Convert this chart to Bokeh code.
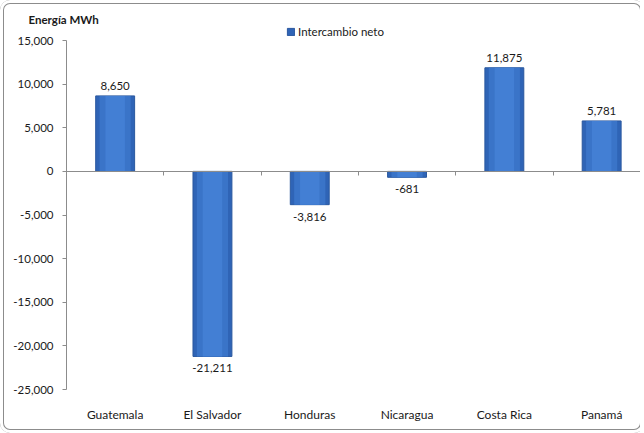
from bokeh.plotting import figure
from bokeh.models import (Range1d, LinearAxis, FixedTicker, NumeralTickFormatter,
                          ColumnDataSource, LabelSet, Legend, LegendItem)
from bokeh.core.properties import value
from bokeh.embed import file_html
from bokeh.resources import INLINE

# ---- data ----
countries = ["Guatemala", "El Salvador", "Honduras", "Nicaragua", "Costa Rica", "Panamá"]
intercambio_neto = [8650, -21211, -3816, -681, 11875, 5781]
y_ticks = [-25000, -20000, -15000, -10000, -5000, 0, 5000, 10000, 15000]
series_name = "Intercambio neto"
y_title = "Energía MWh"

FONT = "Lato"
FS = "11.5px"
TXT = "#1a1a1a"
W, H = 644, 433
LEFT, TOP_AXIS, BOTTOM = 66, 40, 389   # pixel layout of the plot area
FRAME_TOP = 26                          # top of the frame (below the title)

xs = [i + 0.5 for i in range(len(countries))]
src = ColumnDataSource(dict(x=xs, top=intercambio_neto))
pos = [(x, v) for x, v in zip(xs, intercambio_neto) if v >= 0]
neg = [(x, v) for x, v in zip(xs, intercambio_neto) if v < 0]
src_pos = ColumnDataSource(dict(x=[a for a, _ in pos], y=[b for _, b in pos],
                                lab=[f"{b:,}" for _, b in pos]))
src_neg = ColumnDataSource(dict(x=[a for a, _ in neg], y=[b for _, b in neg],
                                lab=[f"{b:,}" for _, b in neg]))

ymin, ymax = y_ticks[0], y_ticks[-1]
units_per_px = (ymax - ymin) / (BOTTOM - TOP_AXIS)
y_top = ymax + (TOP_AXIS - FRAME_TOP) * units_per_px

p = figure(width=W, height=H, output_backend="svg", toolbar_location=None,
           title=y_title,
           x_range=Range1d(0, (W - LEFT) / 97.3), y_range=Range1d(ymin, y_top),
           min_border_left=LEFT, min_border_right=0, min_border_top=FRAME_TOP,
           min_border_bottom=H - BOTTOM,
           x_axis_location=None, y_axis_location=None)
p.title.align = "left"
p.title.offset = 28 - LEFT
p.title.standoff = 2
p.title.text_font = FONT
p.title.text_font_style = "bold"
p.title.text_font_size = FS
p.title.text_color = TXT

p.grid.visible = False
p.outline_line_color = None
p.background_fill_color = None
p.border_fill_color = None
p.styles = {"background": "white", "border-radius": "10px",
            "box-shadow": "inset 0 0 0 3px white, inset 0 0 0 4px #8c8c8c",
            "clip-path": "inset(0 4px 0 0)"}

# y axis
ya = LinearAxis(ticker=FixedTicker(ticks=y_ticks), formatter=NumeralTickFormatter(format="0,0"),
                bounds=(ymin, ymax))
ya.axis_line_color = "#8c8c8c"
ya.major_tick_line_color = "#8c8c8c"
ya.major_tick_out = 4
ya.major_tick_in = 0
ya.minor_tick_line_color = None
ya.major_label_text_font = FONT
ya.major_label_text_font_size = FS
ya.major_label_text_color = TXT
ya.major_label_standoff = 9
p.add_layout(ya, "left")

# zero line axis with category separators
za = LinearAxis(ticker=FixedTicker(ticks=list(range(1, len(countries)))), fixed_location=0)
za.axis_line_color = "#8c8c8c"
za.major_tick_line_color = "#8c8c8c"
za.major_tick_out = 4
za.major_tick_in = 0
za.minor_tick_line_color = None
za.major_label_text_font_size = "0px"
za.major_label_text_color = None
p.add_layout(za, "below")

# category labels at bottom
xa = LinearAxis(ticker=FixedTicker(ticks=xs),
                major_label_overrides={x: c for x, c in zip(xs, countries)})
xa.axis_line_color = None
xa.major_tick_line_color = None
xa.minor_tick_line_color = None
xa.major_label_text_font = FONT
xa.major_label_text_font_size = "12px"
xa.major_label_text_color = TXT
xa.major_label_standoff = 11
p.add_layout(xa, "below")

# bars with a stepped gradient look
bars = p.vbar(x="x", top="top", bottom=0, width=0.40, source=src,
              fill_color="#2F64B6", line_color="#2A589F", line_width=1)
p.vbar(x="x", top="top", bottom=0, width=0.32, source=src,
       fill_color="#3A74C8", line_color=None)
p.vbar(x="x", top="top", bottom=0, width=0.20, source=src,
       fill_color="#437FD4", line_color=None)

# value labels
p.add_layout(LabelSet(x="x", y="y", text="lab", source=src_pos, text_align="center",
                      text_baseline="bottom", y_offset=6, text_font=value(FONT),
                      text_font_size=FS, text_color=TXT))
p.add_layout(LabelSet(x="x", y="y", text="lab", source=src_neg, text_align="center",
                      text_baseline="top", y_offset=-8, text_font=value(FONT),
                      text_font_size=FS, text_color=TXT))

# legend (inside the top part of the frame)
legend = Legend(items=[LegendItem(label=series_name, renderers=[bars])],
                location=(286 - LEFT, BOTTOM - 38), orientation="horizontal",
                padding=0, margin=0, spacing=0, border_line_color=None,
                background_fill_alpha=0, glyph_width=9, glyph_height=9,
                label_text_font=FONT, label_text_font_size=FS,
                label_text_color=TXT, label_standoff=3, label_height=11)
p.add_layout(legend, "center")

open("out.html", "w").write(file_html(p, INLINE))
